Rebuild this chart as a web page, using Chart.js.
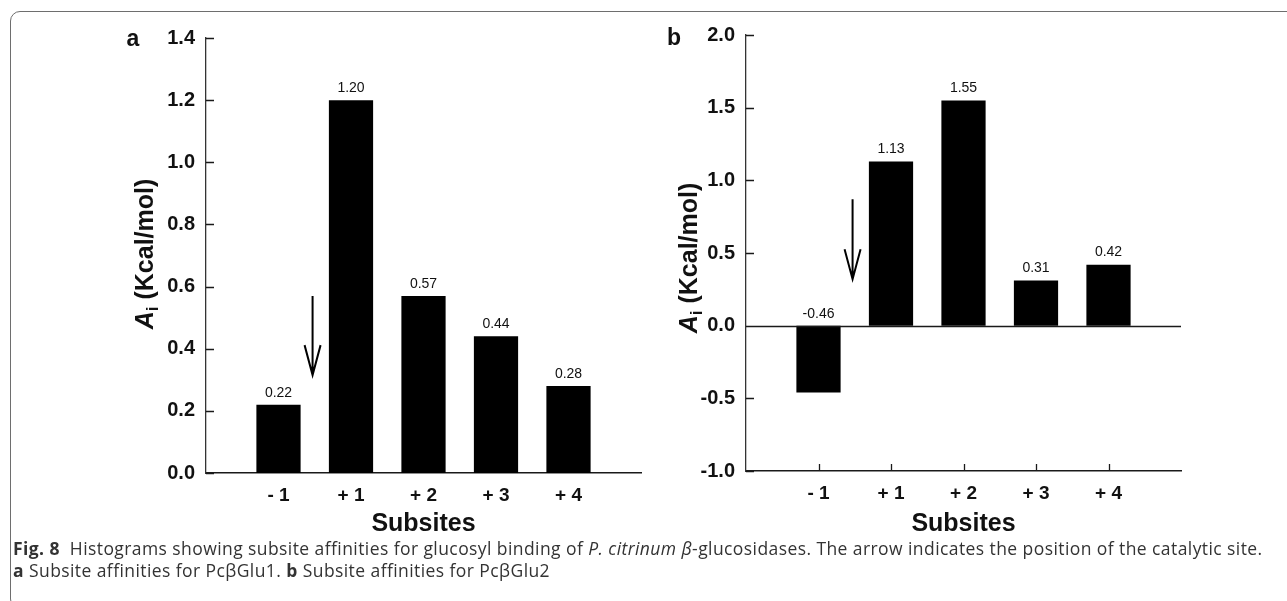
<!DOCTYPE html>
<html>
<head>
<meta charset="utf-8">
<script src="https://cdn.jsdelivr.net/npm/chart.js@4"></script>
<style>
  body { margin: 0; background: #fff; }
  #page { position: relative; width: 1287px; height: 601px; overflow: hidden; font-family: 'Liberation Sans', Arial, sans-serif; }
  #frame { position: absolute; left: 10px; top: 11px; width: 1300px; height: 596px; border: 1.5px solid #6e6e6e; border-radius: 10px; }
  .panel { position: absolute; top: 0; width: 660px; height: 545px; }
  .ytitle { position: absolute; transform: translate(-50%, -50%) rotate(-90deg); white-space: nowrap; font-weight: bold; font-size: 25px; color: #111; }
  .ytitle sub { font-size: 17px; vertical-align: -5px; }
  .tag { position: absolute; transform: translate(-50%, -50%); font-weight: bold; font-size: 23px; color: #111; }
  #caption { position: absolute; left: 13px; top: 537px; font-family: 'Open Sans', 'Noto Sans', sans-serif; font-size: 17.5px; letter-spacing: 0.42px; line-height: 22px; color: #333; white-space: nowrap; }
</style>
</head>
<body>
<div id="page">
  <div id="frame"></div>
  <div class="panel" style="left:0"><canvas id="chartA"></canvas></div>
  <div class="panel" style="left:540px"><canvas id="chartB"></canvas></div>
  <div class="tag" style="left:133px; top:38px">a</div>
  <div class="tag" style="left:674px; top:37px">b</div>
  <div class="ytitle" style="left:146px; top:254px"><i>A</i><sub>i</sub> (Kcal/mol)</div>
  <div class="ytitle" style="left:690px; top:258px"><i>A</i><sub>i</sub> (Kcal/mol)</div>
  <div id="caption">
    <div><b>Fig. 8</b>&nbsp; Histograms showing subsite affinities for glucosyl binding of <i>P. citrinum β</i>-glucosidases. The arrow indicates the position of the catalytic site.</div>
    <div><b>a</b> Subsite affinities for PcβGlu1. <b>b</b> Subsite affinities for PcβGlu2</div>
  </div>
</div>
<script>
// Subsite affinities (Kcal/mol) per subsite
const subsites = ['- 1', '+ 1', '+ 2', '+ 3', '+ 4'];
const affinityGlu1 = [0.22, 1.20, 0.57, 0.44, 0.28];
const affinityGlu2 = [-0.46, 1.13, 1.55, 0.31, 0.42];

// y axis ranges / steps
const yRangeA = [0, 1.4, 0.2];
const yRangeB = [-1.0, 2.0, 0.5];

// catalytic site arrows: [x position (category index), start value, tip value]
const arrowA = [1.47, 0.57, 0.315];
const arrowB = [1.47, 0.87, 0.32];

const FONT = "'Liberation Sans', Arial, sans-serif";

// one empty slot either side of the subsites
const paddedLabels = ['', ...subsites, ''];
const pad = arr => [null, ...arr, null];

// inward tick marks, zero line, value labels and the arrow
const extras = {
    id: 'extras',
    afterDatasetsDraw(chart, args, opts) {
        const { ctx, chartArea, scales: { x, y } } = chart;
        ctx.save();
        ctx.strokeStyle = '#1a1a1a';
        ctx.lineWidth = 1.3;
        ctx.beginPath();
        y.ticks.forEach(t => {
            const py = Math.round(y.getPixelForValue(t.value)) + 0.5;
            ctx.moveTo(chartArea.left, py);
            ctx.lineTo(chartArea.left + 8, py);
        });
        if (opts.xTicks) {
            paddedLabels.forEach((lbl, i) => {
                if (!lbl) return;
                const px = Math.round(x.getPixelForValue(i)) + 0.5;
                ctx.moveTo(px, chartArea.bottom);
                ctx.lineTo(px, chartArea.bottom - 7);
            });
        }
        if (opts.zeroLine) {
            const py = Math.round(y.getPixelForValue(0)) + 0.5;
            ctx.moveTo(chartArea.left, py);
            ctx.lineTo(chartArea.right, py);
        }
        ctx.stroke();

        // value labels above each bar (or above the baseline for negative bars)
        ctx.fillStyle = '#111';
        ctx.font = '14px ' + FONT;
        ctx.textAlign = 'center';
        ctx.textBaseline = 'bottom';
        const meta = chart.getDatasetMeta(0);
        const data = chart.data.datasets[0].data;
        meta.data.forEach((bar, i) => {
            const v = data[i];
            if (v === null) return;
            const top = v >= 0 ? bar.y : y.getPixelForValue(0);
            ctx.fillText(v.toFixed(2), bar.x, top - 5);
        });

        // arrow marking the catalytic site
        const [ax, from, to] = opts.arrow;
        const px = x.getPixelForValue(ax);
        const y1 = y.getPixelForValue(from);
        const y2 = y.getPixelForValue(to);
        ctx.strokeStyle = '#000';
        ctx.lineWidth = 2;
        ctx.beginPath();
        ctx.moveTo(px, y1);
        ctx.lineTo(px, y2);
        ctx.moveTo(px - 8, y2 - 30);
        ctx.lineTo(px, y2);
        ctx.lineTo(px + 8, y2 - 30);
        ctx.stroke();
        ctx.restore();
    }
};

function makeChart(id, values, range, arrow, opts) {
    return new Chart(document.getElementById(id), {
        type: 'bar',
        data: {
            labels: paddedLabels,
            datasets: [{
                data: pad(values),
                backgroundColor: '#000',
                borderWidth: 0,
                barPercentage: 0.61,
                categoryPercentage: 1.0
            }]
        },
        options: {
            responsive: false,
            animation: false,
            layout: { padding: { left: 126, right: 19, top: opts.top, bottom: 0 } },
            plugins: {
                legend: { display: false },
                tooltip: { enabled: false },
                extras: { arrow, xTicks: opts.xTicks, zeroLine: opts.zeroLine }
            },
            scales: {
                x: {
                    offset: false,
                    grid: { display: false, drawTicks: false },
                    border: { display: true, color: '#1a1a1a', width: 1.5 },
                    ticks: { autoSkip: false, maxRotation: 0, padding: 11, color: '#111', font: { family: FONT, size: 19, weight: 'bold' } },
                    title: { display: true, text: 'Subsites', color: '#111', padding: { top: 4, bottom: 6 }, font: { family: FONT, size: 25, weight: 'bold' } },
                    afterFit(scale) { scale.height = 545 - opts.bottom; }
                },
                y: {
                    min: range[0],
                    max: range[1],
                    grid: { display: false, drawTicks: false },
                    border: { display: true, color: '#333', width: 1.3 },
                    ticks: {
                        stepSize: range[2],
                        padding: 11,
                        color: '#111',
                        font: { family: FONT, size: 20, weight: 'bold' },
                        callback: v => Number(v).toFixed(1)
                    },
                    afterFit(scale) { scale.width = 80; }
                }
            }
        },
        plugins: [extras]
    });
}

document.querySelectorAll('canvas').forEach(c => { c.width = 660; c.height = 545; });

makeChart('chartA', affinityGlu1, yRangeA, arrowA, { top: 38, bottom: 473, xTicks: false, zeroLine: false });
makeChart('chartB', affinityGlu2, yRangeB, arrowB, { top: 35, bottom: 471, xTicks: true, zeroLine: true });
</script>
</body>
</html>
